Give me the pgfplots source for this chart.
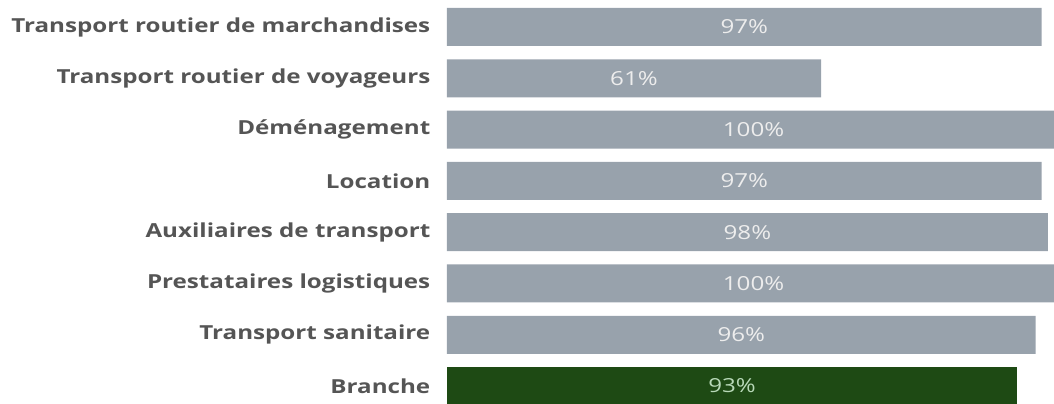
\documentclass[border=0pt]{standalone}
\usepackage{fontspec}
\setmainfont{Open Sans}
\newfontfamily\labfont[FakeStretch=1.25]{Open Sans}
\usepackage{pgfplots}
\pgfplotsset{compat=1.18}
\usepackage{pgfplotstable}
\definecolor{bargray}{HTML}{98A2AC}
\definecolor{bargreen}{HTML}{1E4A14}
\definecolor{labgray}{HTML}{555555}
\pgfplotstableread{
i v
0 97
1 61
2 100
3 97
4 98
5 100
6 96
}\graydata
\pgfplotstableread{
i v
7 93
}\greendata
\begin{document}
\begin{tikzpicture}
\begin{axis}[
  name=ax,
  scale only axis,
  width=455.25pt, height=302.25pt,
  xmin=0, xmax=99,
  ymin=-0.526, ymax=7.33,
  y dir=reverse,
  axis line style={draw=none},
  major tick length=0pt,
  xtick=\empty,
  ytick={0,1,2,3,4,5,6,7},
  yticklabels={Transport routier de marchandises,Transport routier de voyageurs,Déménagement,Location,Auxiliaires de transport,Prestataires logistiques,Transport sanitaire,Branche},
  yticklabel style={font=\labfont\fontsize{14.5}{17}\selectfont\bfseries, text=labgray, anchor=east, xshift=-9pt},
  clip=true,
  /pgf/number format/assume math mode=true,
]
\addplot[xbar, bar width=28.5pt, bar shift=0pt, fill=bargray, draw=none] table[x=v, y=i] {\graydata};
\addplot[xbar, bar width=28.5pt, bar shift=0pt, fill=bargreen, draw=none] table[x=v, y=i] {\greendata};
\addplot[only marks, mark=none, point meta=explicit,
  nodes near coords={\pgfmathprintnumber{\pgfplotspointmeta}\%},
  every node near coord/.style={anchor=center, font=\labfont\fontsize{14.5}{17}\selectfont, text=white!93!black}]
  table[x expr=\thisrow{v}/2, y=i, meta=v] {\graydata};
\addplot[only marks, mark=none, point meta=explicit,
  nodes near coords={\pgfmathprintnumber{\pgfplotspointmeta}\%},
  every node near coord/.style={anchor=center, font=\labfont\fontsize{14.5}{17}\selectfont, text=green!15!white!85!black}]
  table[x expr=\thisrow{v}/2, y=i, meta=v] {\greendata};
\end{axis}
\pgfresetboundingbox
\path (ax.south west) ++(-335.25pt,0pt) rectangle (ax.north east);
\end{tikzpicture}
\end{document}
